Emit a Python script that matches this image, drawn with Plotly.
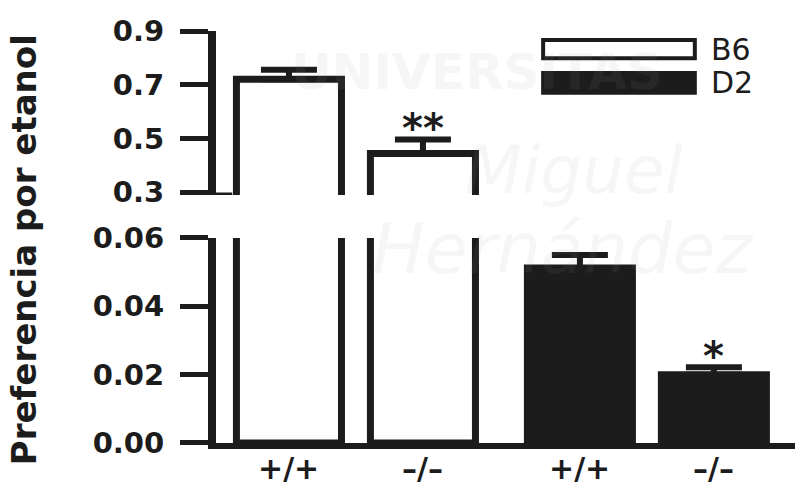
import plotly.graph_objects as go

# ---- data ----
strains = ["B6", "D2"]
genotypes = ["+/+", "–/–"]
pref_wt = [0.72, 0.0512]      # +/+ (B6, D2)
pref_ko = [0.444, 0.0200]     # -/- (B6, D2)
err_wt = [0.036, 0.0038]
err_ko = [0.052, 0.0022]
signif = ["", "**", "", "*"]   # B6 +/+, B6 -/-, D2 +/+, D2 -/-
upper_ticks = [0.3, 0.5, 0.7, 0.9]
lower_ticks = [0.00, 0.02, 0.04, 0.06]
ytitle = "Preferencia por etanol"

INK = "#1c1c1c"
strain_colors = {"B6": "white", "D2": INK}
bar_colors = [strain_colors[s] for s in strains]

BARGAP = 0.079
GROUPGAP = 0.216
FONT_B = "DejaVu Sans"

fig = go.Figure()
for vals, errs, name in [(pref_wt, err_wt, genotypes[0]), (pref_ko, err_ko, genotypes[1])]:
    for ya in ["y", "y2"]:
        fig.add_trace(go.Bar(
            x=strains, y=vals, name=name, yaxis=ya, offsetgroup=name,
            marker=dict(color=bar_colors, line=dict(color=INK, width=7)),
            error_y=dict(type="data", array=errs, arrayminus=[0] * len(errs),
                         symmetric=False, color=INK, thickness=6, width=28),
            showlegend=False,
        ))

tickfont = dict(family=FONT_B, size=29, color=INK, weight="bold")
common_y = dict(showline=True, linewidth=8, linecolor=INK, ticks="outside",
                ticklen=28, tickwidth=5, tickcolor=INK, showgrid=False, zeroline=False,
                ticklabelstandoff=10, tickfont=tickfont)

fig.update_layout(
    width=795, height=486,
    margin=dict(l=216, r=0, t=31, b=43),
    paper_bgcolor="white", plot_bgcolor="white",
    barmode="group", bargap=BARGAP, bargroupgap=GROUPGAP,
    xaxis=dict(type="category", range=[-0.481, 1.509], showline=True, linewidth=6,
               linecolor=INK, ticks="", showticklabels=False, showgrid=False,
               zeroline=False, anchor="y"),
    yaxis=dict(domain=[0, 0.4976], range=[0, 0.06], tickvals=lower_ticks, tickformat=".2f",
               **common_y),
    yaxis2=dict(domain=[0.602, 1], range=[0.289, 0.9], tickvals=upper_ticks, tickformat=".1f",
                anchor="x", **common_y),
)

# x labels under each bar and significance marks
half = (1 - BARGAP) / 4
all_vals = [pref_wt[0], pref_ko[0], pref_wt[1], pref_ko[1]]
all_errs = [err_wt[0], err_ko[0], err_wt[1], err_ko[1]]
for i, s in enumerate(strains):
    for j, g in enumerate(genotypes):
        xpos = i + (half if j == 1 else -half)
        fig.add_annotation(x=xpos, xref="x", y=0, yref="paper", yanchor="top", yshift=-6,
                           text=g, showarrow=False,
                           font=dict(family=FONT_B, size=30, color=INK, weight="bold"))
        k = 2 * i + j
        if signif[k]:
            top = all_vals[k] + all_errs[k]
            fig.add_annotation(x=xpos, xref="x", y=top, yref="y2" if top > 0.1 else "y",
                               yanchor="bottom", yshift=-14, text=signif[k], showarrow=False,
                               font=dict(family=FONT_B, size=40, color=INK, weight="bold"))

# y title
fig.add_annotation(text=ytitle, textangle=-90, xref="paper", yref="paper", x=0, y=0.468,
                   xanchor="center", yanchor="middle", xshift=-192, showarrow=False,
                   font=dict(family=FONT_B, size=34, color=INK, weight="bold"))

# custom legend
leg = [("B6", 0.978, 0.934), ("D2", 0.898, 0.850)]
for name, y1, y0 in leg:
    fig.add_shape(type="rect", xref="paper", yref="paper", x0=0.565, x1=0.827, y0=y0, y1=y1,
                  line=dict(color=INK, width=4), fillcolor=strain_colors[name])
    fig.add_annotation(text=name, xref="paper", yref="paper", x=0.852, y=(y0 + y1) / 2,
                       xanchor="left", yanchor="middle", showarrow=False,
                       font=dict(family=FONT_B, size=30, color=INK))

# axis break mark
fig.add_shape(type="line", xref="paper", yref="y2", x0=-0.036, x1=0.028, y0=0.289, y1=0.289,
              line=dict(color=INK, width=5))

# faint watermark
for txt, x, y, size, ital in [("UNIVERSITAS", 0.45, 0.975, 50, False),
                              ("Miguel", 0.62, 0.76, 66, True),
                              ("Hernández", 0.6, 0.47, 70, True)]:
    fig.add_annotation(text=txt, xref="paper", yref="paper", x=x, y=y, showarrow=False,
                       font=dict(family="DejaVu Sans", size=size, color="rgba(150,150,150,0.09)",
                                 style="italic" if ital else "normal",
                                 weight="bold" if not ital else "normal"))

fig.write_html("out.html", config={"displayModeBar": False},
               post_script="document.body.style.margin='0';")
